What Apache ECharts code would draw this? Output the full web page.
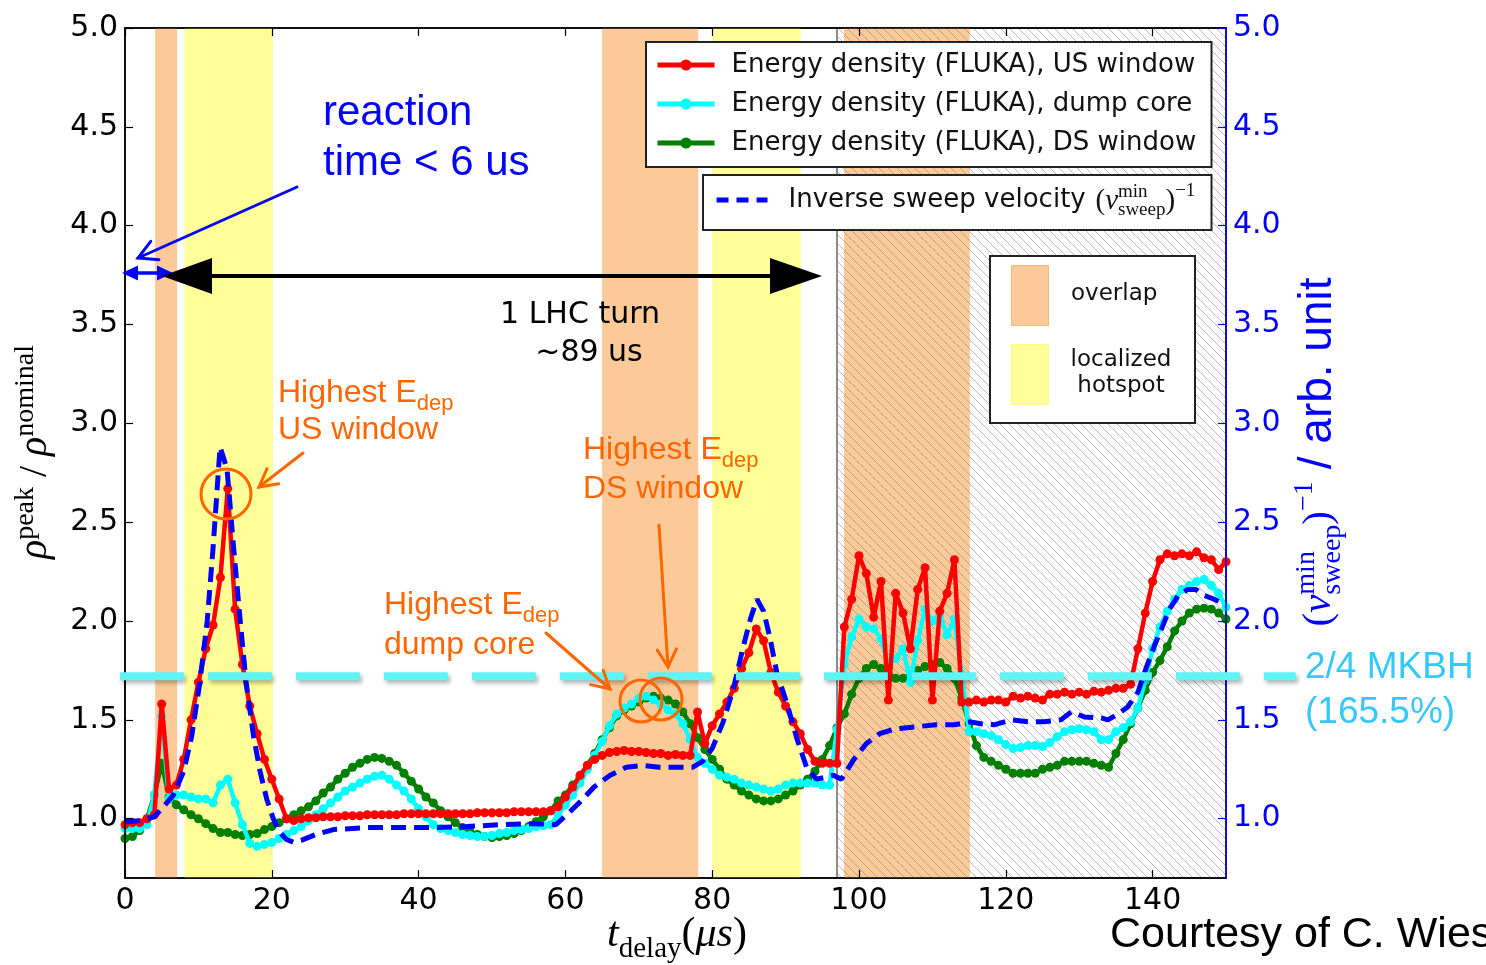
<!DOCTYPE html>
<html>
<head>
<meta charset="utf-8">
<script src="https://cdn.jsdelivr.net/npm/echarts@6/dist/echarts.min.js"></script>
<style>
  html, body { margin: 0; padding: 0; background: #fff; }
  #chart { width: 1486px; height: 965px; }
</style>
</head>
<body>
<div id="chart"></div>
<script>
// ---- data (t_delay in µs, one FLUKA sample per µs starting at 0) ----
const T_STEP = 1;

const usWindow = [
  0.97, 0.98, 0.98, 1.00, 1.02, 1.58, 1.15, 1.17, 1.30, 1.50,
  1.69, 1.86, 1.98, 2.22, 2.67, 2.06, 1.78, 1.57, 1.43, 1.30,
  1.20, 1.10, 1.00, 0.99, 1.00, 1.005, 1.005, 1.01, 1.01, 1.01,
  1.015, 1.015, 1.015, 1.02, 1.02, 1.02, 1.02, 1.02, 1.025, 1.025,
  1.025, 1.025, 1.025, 1.025, 1.025, 1.025, 1.025, 1.025, 1.03, 1.03,
  1.03, 1.03, 1.03, 1.035, 1.035, 1.035, 1.035, 1.035, 1.04, 1.06,
  1.11, 1.16, 1.22, 1.27, 1.30, 1.32, 1.335, 1.34, 1.345, 1.34,
  1.34, 1.335, 1.33, 1.33, 1.32, 1.325, 1.32, 1.32, 1.54, 1.38,
  1.47, 1.53, 1.59, 1.66, 1.76, 1.84, 1.96, 1.90, 1.74, 1.64,
  1.57, 1.49, 1.43, 1.35, 1.29, 1.28, 1.28, 1.28, 1.97, 2.11,
  2.33, 2.24, 2.02, 2.20, 1.60, 2.14, 2.04, 1.86, 2.16, 2.27,
  1.60, 2.05, 2.14, 2.31, 1.59, 1.59, 1.60, 1.59, 1.60, 1.60,
  1.59, 1.62, 1.61, 1.62, 1.61, 1.60, 1.63, 1.63, 1.64, 1.63,
  1.64, 1.63, 1.645, 1.64, 1.65, 1.66, 1.66, 1.68, 1.86, 2.04,
  2.20, 2.31, 2.34, 2.33, 2.34, 2.33, 2.35, 2.32, 2.31, 2.26,
  2.30
];

const dumpCore = [
  0.95, 0.95, 0.95, 0.97, 1.12, 1.52, 1.10, 1.12, 1.12, 1.11,
  1.10, 1.10, 1.08, 1.17, 1.20, 1.08, 0.97, 0.875, 0.86, 0.87,
  0.88, 0.90, 0.92, 0.94, 0.96, 0.99, 1.02, 1.05, 1.08, 1.11,
  1.14, 1.16, 1.18, 1.20, 1.215, 1.22, 1.20, 1.17, 1.14, 1.10,
  1.05, 1.01, 0.97, 0.95, 0.94, 0.93, 0.92, 0.915, 0.91, 0.91,
  0.915, 0.925, 0.93, 0.94, 0.945, 0.95, 0.96, 0.965, 0.97, 1.02,
  1.07, 1.12, 1.18, 1.25, 1.32, 1.39, 1.47, 1.53, 1.56, 1.58,
  1.61, 1.62, 1.60, 1.58, 1.55, 1.53, 1.48, 1.40, 1.31, 1.28,
  1.25, 1.22, 1.21, 1.20, 1.18, 1.17, 1.16, 1.15, 1.14, 1.15,
  1.17, 1.18, 1.18, 1.18, 1.18, 1.17, 1.17, 1.45, 1.78, 1.92,
  2.01, 1.97, 1.96, 1.91, 1.78, 1.81, 1.86, 1.69, 1.90, 2.06,
  2.00, 2.03, 1.93, 2.01, 1.73, 1.44, 1.44, 1.43, 1.42, 1.40,
  1.375, 1.355, 1.36, 1.37, 1.37, 1.365, 1.385, 1.415, 1.44, 1.45,
  1.455, 1.45, 1.44, 1.40, 1.40, 1.44, 1.46, 1.49, 1.56, 1.70,
  1.86, 1.97, 2.05, 2.11, 2.16, 2.18, 2.20, 2.21, 2.18, 2.14,
  2.07
];

const dsWindow = [
  0.90, 0.91, 0.94, 1.00, 1.12, 1.28, 1.11, 1.07, 1.045, 1.02,
  1.00, 0.975, 0.95, 0.93, 0.93, 0.92, 0.915, 0.92, 0.925, 0.945,
  0.96, 0.98, 1.00, 1.02, 1.04, 1.06, 1.09, 1.13, 1.16, 1.20,
  1.23, 1.26, 1.28, 1.30, 1.31, 1.305, 1.29, 1.27, 1.23, 1.19,
  1.15, 1.11, 1.08, 1.04, 1.01, 0.98, 0.955, 0.935, 0.92, 0.91,
  0.905, 0.91, 0.915, 0.925, 0.94, 0.96, 0.985, 1.01, 1.04, 1.09,
  1.12, 1.17, 1.21, 1.27, 1.33, 1.40, 1.46, 1.52, 1.55, 1.57,
  1.59, 1.61, 1.62, 1.61, 1.60, 1.58, 1.54, 1.48, 1.41, 1.35,
  1.30, 1.25, 1.20, 1.17, 1.14, 1.12, 1.10, 1.09, 1.09, 1.10,
  1.12, 1.14, 1.17, 1.20, 1.24, 1.30, 1.37, 1.46, 1.53, 1.63,
  1.71, 1.76, 1.78, 1.76, 1.73, 1.71, 1.71, 1.73, 1.75, 1.77,
  1.78, 1.79, 1.76, 1.71, 1.61, 1.48, 1.37, 1.31, 1.29, 1.27,
  1.25, 1.23, 1.23, 1.23, 1.23, 1.25, 1.26, 1.27, 1.29, 1.29,
  1.29, 1.29, 1.28, 1.27, 1.26, 1.33, 1.40, 1.48, 1.56, 1.65,
  1.74, 1.80, 1.87, 1.95, 2.00, 2.04, 2.06, 2.065, 2.06, 2.04,
  2.01
];

// inverse sweep velocity, [t_delay, value] (right axis, arb. unit)
const sweepInv = [
  [0, 0.985], [2, 0.99], [3, 1.00], [4, 1.01], [5, 1.05], [6.6, 1.12], [8, 1.24],
  [9.1, 1.42], [10.2, 1.69], [11.2, 2.00], [12, 2.37], [12.95, 2.88], [13.9, 2.77],
  [14.8, 2.37], [15.7, 2.00], [16.5, 1.69], [17.5, 1.42], [18.4, 1.24], [19.3, 1.10],
  [20.2, 1.00], [21.1, 0.93], [22, 0.895], [23, 0.88], [24, 0.89], [26, 0.92],
  [28.4, 0.945], [33, 0.955], [37.5, 0.955], [42, 0.955], [46.6, 0.96], [51, 0.97],
  [55.6, 0.975], [58.7, 0.97], [60.2, 1.02], [62, 1.085], [63.9, 1.16], [66.1, 1.22],
  [68.3, 1.26], [70.5, 1.27], [72.8, 1.26], [75, 1.26], [77.3, 1.26], [78.7, 1.29],
  [80, 1.355], [81.5, 1.49], [82.9, 1.66], [84.1, 1.85], [85.2, 2.01], [86.1, 2.11],
  [87, 2.05], [87.9, 1.91], [88.8, 1.74], [90.2, 1.58], [91.5, 1.41], [92.9, 1.255],
  [94.2, 1.20], [95.5, 1.21], [96.5, 1.22], [97.6, 1.20], [99.3, 1.30], [101, 1.38],
  [102.8, 1.43], [105, 1.455], [107.7, 1.465], [110.5, 1.475], [113, 1.475],
  [115.2, 1.49], [116.6, 1.48], [118.4, 1.475], [120.7, 1.50], [123, 1.49],
  [125.2, 1.49], [127.5, 1.50], [128.9, 1.54], [130.7, 1.515], [133, 1.51],
  [133.9, 1.50], [135.3, 1.53], [136.6, 1.565], [138, 1.64], [139.1, 1.76],
  [140.3, 1.88], [141.2, 1.96], [142.3, 2.06], [143.5, 2.13], [144.8, 2.16],
  [145.9, 2.16], [147, 2.13], [148.4, 2.11], [149.5, 2.09], [150, 2.08]
];

// shaded time windows [from, to] in µs
const overlapBands = [[4.1, 7.1], [65.0, 78.1], [97.95, 115.1]];
const hotspotBands = [[8.1, 20.15], [80.0, 92.05]];
const hatchBand = [97, 150];
const turnMark = 97;

// 2/4 MKBH level and the extent of its dashed line (µs)
const mkbhLevel = 1.72;
const mkbhSpan = [-0.7, 159.5];

const xTicks = [0, 20, 40, 60, 80, 100, 120, 140];
const yTicks = [1.0, 1.5, 2.0, 2.5, 3.0, 3.5, 4.0, 4.5, 5.0];

const NAME_US = 'Energy density (FLUKA), US window';
const NAME_CORE = 'Energy density (FLUKA), dump core';
const NAME_DS = 'Energy density (FLUKA), DS window';
const NAME_SWEEP = 'Inverse sweep velocity';

// ---- styling ----
const ORANGE_BAND = '#fcca98';
const YELLOW_BAND = '#ffff99';
const ANNO_ORANGE = '#ff6600';
const ANNO_BLUE = '#0505f5';
const SERIF = '"Liberation Serif"';
const SANS = '"Liberation Sans"';
const DJV = '"DejaVu Sans"';

const pairs = arr => arr.map((v, i) => [i * T_STEP, v]);

// diagonal hatch tile
const hatch = document.createElement('canvas');
hatch.width = hatch.height = 9;
(function () {
  const g = hatch.getContext('2d');
  g.strokeStyle = 'rgba(120,120,120,0.5)';
  g.lineWidth = 1;
  g.beginPath();
  g.moveTo(0, 0); g.lineTo(9, 9);
  g.moveTo(-2, 7); g.lineTo(2, 11);
  g.moveTo(7, -2); g.lineTo(11, 2);
  g.stroke();
})();

// text measuring for the hand-set math labels
const meas = document.createElement('canvas').getContext('2d');
function textWidth(s, font) { meas.font = font; return meas.measureText(s).width; }
function fontSize(font) { return parseFloat(font.match(/([\d.]+)px/)[1]); }

// lays out pieces of a formula on one baseline (local y = 0)
function mathRun(parts, opt) {
  let x = 0;
  const kids = [];
  parts.forEach(p => {
    if (p.gap) { x += p.gap; return; }
    const rows = p.stack || [p];
    let w = 0;
    rows.forEach(r => {
      const s = fontSize(r.f);
      kids.push({
        type: 'text', x: x, y: (r.dy || 0) - 0.3 * s, z: 30, silent: true,
        style: { text: r.t, font: r.f, fill: opt.color, align: 'left', verticalAlign: 'middle' }
      });
      w = Math.max(w, textWidth(r.t, r.f));
    });
    x += w;
  });
  const shift = opt.anchor === 'center' ? -x / 2 : 0;
  kids.forEach(k => { k.x += shift; });
  return { type: 'group', x: opt.x, y: opt.y, rotation: opt.rotation || 0, z: 30, children: kids };
}

function label(text, x, y, font, color, align) {
  return {
    type: 'text', x: x, y: y, z: 30, silent: true,
    style: { text: text, font: font, fill: color, align: align || 'left', verticalAlign: 'middle' }
  };
}

// text with a lowered subscript ("E" + "dep")
function subLabel(main, sub, x, y, font, subFont, color) {
  const w = textWidth(main, font);
  return [label(main, x, y, font, color), label(sub, x + w, y + 11, subFont, color)];
}

function line(x1, y1, x2, y2, color, width) {
  return { type: 'line', z: 30, silent: true, shape: { x1, y1, x2, y2 }, style: { stroke: color, lineWidth: width, lineCap: 'round' } };
}

// open "V" arrow head at (tx, ty) coming from (fx, fy)
function vHead(fx, fy, tx, ty, len, ang, color, width) {
  const a = Math.atan2(fy - ty, fx - tx);
  const p1 = [tx + len * Math.cos(a + ang), ty + len * Math.sin(a + ang)];
  const p2 = [tx + len * Math.cos(a - ang), ty + len * Math.sin(a - ang)];
  return {
    type: 'polyline', z: 30, silent: true,
    shape: { points: [p1, [tx, ty], p2] },
    style: { stroke: color, lineWidth: width, fill: null, lineJoin: 'miter', lineCap: 'round' }
  };
}

function vArrow(fx, fy, tx, ty, color, width, len) {
  return [line(fx, fy, tx, ty, color, width), vHead(fx, fy, tx, ty, len || 20, 0.5, color, width)];
}

function tri(points, color) {
  return { type: 'polygon', z: 30, silent: true, shape: { points }, style: { fill: color } };
}

function ring(cx, cy, r, color) {
  return { type: 'circle', z: 30, silent: true, shape: { cx, cy, r }, style: { fill: null, stroke: color, lineWidth: 3 } };
}

const chart = echarts.init(document.getElementById('chart'), null, { renderer: 'canvas' });

const axisFont = { fontFamily: DJV, fontSize: 30 };

const option = {
  animation: false,
  backgroundColor: '#fff',
  grid: { left: 125, right: 260, top: 28, bottom: 87, show: true, borderColor: '#000', borderWidth: 1.5, backgroundColor: '#fff' },
  xAxis: [
    {
      type: 'value', min: 0, max: 150, position: 'bottom', z: 10,
      axisLine: { show: true, onZero: false, lineStyle: { color: '#000', width: 1.5 } },
      axisTick: { show: true, inside: true, length: 8, customValues: xTicks, lineStyle: { color: '#000', width: 1.2 } },
      axisLabel: { customValues: xTicks, margin: 8, color: '#000', ...axisFont, formatter: v => String(v) },
      splitLine: { show: false }
    },
    {
      type: 'value', min: 0, max: 150, position: 'top', z: 10,
      axisLine: { show: true, onZero: false, lineStyle: { color: '#000', width: 1.5 } },
      axisTick: { show: true, inside: true, length: 8, customValues: xTicks, lineStyle: { color: '#000', width: 1.2 } },
      axisLabel: { show: false },
      splitLine: { show: false }
    }
  ],
  yAxis: [
    {
      type: 'value', min: 0.7, max: 5.0, position: 'left', z: 10,
      axisLine: { show: true, onZero: false, lineStyle: { color: '#000', width: 1.5 } },
      axisTick: { show: true, inside: true, length: 8, customValues: yTicks, lineStyle: { color: '#000', width: 1.2 } },
      axisLabel: { customValues: yTicks, margin: 7, color: '#000', ...axisFont, formatter: v => v.toFixed(1) },
      splitLine: { show: false }
    },
    {
      type: 'value', min: 0.7, max: 5.0, position: 'right', z: 10,
      axisLine: { show: true, onZero: false, lineStyle: { color: '#0000ff', width: 1.5 } },
      axisTick: { show: true, inside: true, length: 8, customValues: yTicks, lineStyle: { color: '#0000ff', width: 1.2 } },
      axisLabel: { customValues: yTicks, margin: 7, color: '#0000ff', ...axisFont, formatter: v => v.toFixed(1) },
      splitLine: { show: false }
    }
  ],
  legend: [
    {
      data: [NAME_US, NAME_CORE, NAME_DS], orient: 'vertical', left: 646, top: 42,
      itemWidth: 57, itemHeight: 14, itemGap: 13, padding: [10, 13, 11, 9],
      backgroundColor: '#fff', borderColor: '#222', borderWidth: 2, borderRadius: 0,
      selectedMode: false, z: 20,
      lineStyle: { width: 5 },
      textStyle: { fontFamily: DJV, fontSize: 26, color: '#111', lineHeight: 26, width: 467, padding: [0, 0, 0, 12] }
    },
    {
      data: [NAME_SWEEP], orient: 'vertical', left: 703, top: 175,
      itemWidth: 51, itemHeight: 14, padding: [12, 11, 17, 11],
      backgroundColor: '#fff', borderColor: '#222', borderWidth: 2, borderRadius: 0,
      selectedMode: false, z: 20,
      lineStyle: { width: 5, type: [12, 8] },
      itemStyle: { opacity: 0 },
      textStyle: { fontFamily: DJV, fontSize: 26, color: '#111', lineHeight: 26, width: 412, padding: [0, 0, 0, 16] }
    }
  ],
  series: [
    {
      name: 'overlap', type: 'line', data: [], z: 1, silent: true,
      markArea: {
        silent: true, itemStyle: { color: ORANGE_BAND },
        data: overlapBands.map(b => [{ xAxis: b[0] }, { xAxis: b[1] }])
      }
    },
    {
      name: 'localized hotspot', type: 'line', data: [], z: 1, silent: true,
      markArea: {
        silent: true, itemStyle: { color: YELLOW_BAND },
        data: hotspotBands.map(b => [{ xAxis: b[0] }, { xAxis: b[1] }])
      }
    },
    {
      name: 'next turn', type: 'line', data: [], z: 1, silent: true,
      markArea: {
        silent: true, itemStyle: { color: { image: hatch, repeat: 'repeat' } },
        data: [[{ xAxis: hatchBand[0] }, { xAxis: hatchBand[1] }]]
      },
      markLine: {
        silent: true, symbol: 'none', label: { show: false },
        lineStyle: { color: '#666', width: 1.5, type: 'solid' },
        data: [{ xAxis: turnMark }]
      }
    },
    {
      name: NAME_DS, type: 'line', data: pairs(dsWindow), z: 3,
      color: '#007f00', symbol: 'circle', symbolSize: 9, showAllSymbol: true,
      lineStyle: { width: 4.5, color: '#007f00' }, itemStyle: { color: '#007f00' }
    },
    {
      name: NAME_CORE, type: 'line', data: pairs(dumpCore), z: 4,
      color: '#00ffff', symbol: 'circle', symbolSize: 9, showAllSymbol: true,
      lineStyle: { width: 4.5, color: '#00ffff' }, itemStyle: { color: '#00ffff' }
    },
    {
      name: NAME_US, type: 'line', data: pairs(usWindow), z: 5,
      color: '#ff0000', symbol: 'circle', symbolSize: 9, showAllSymbol: true,
      lineStyle: { width: 4.5, color: '#ff0000' }, itemStyle: { color: '#ff0000' }
    },
    {
      name: NAME_SWEEP, type: 'line', data: sweepInv, yAxisIndex: 1, z: 6,
      color: '#0000ff', symbol: 'none',
      lineStyle: { width: 5, color: '#0000ff', type: [15, 8] }, itemStyle: { color: '#0000ff' }
    }
  ]
};

chart.setOption(option);

// ---- annotations ----
const f32 = '32px ' + SANS, f22 = '22px ' + SANS;
const graphics = [];

// 2/4 MKBH level: dashed line placed through the axis scales, running past the plot
const mkA = chart.convertToPixel({ xAxisIndex: 0, yAxisIndex: 0 }, [mkbhSpan[0], mkbhLevel]);
const mkB = chart.convertToPixel({ xAxisIndex: 0, yAxisIndex: 0 }, [mkbhSpan[1], mkbhLevel]);
graphics.push({
  type: 'line', z: 25, silent: true,
  shape: { x1: mkA[0], y1: mkA[1], x2: mkB[0], y2: mkB[1] },
  style: {
    stroke: '#5ff3f3', lineWidth: 8, lineDash: [64, 24],
    shadowColor: 'rgba(0,0,0,0.3)', shadowBlur: 4, shadowOffsetX: 2, shadowOffsetY: 3
  }
});

// reaction-time note and its arrows
graphics.push(label('reaction', 323, 113, '42px ' + SANS, ANNO_BLUE));
graphics.push(label('time < 6 us', 323, 163, '42px ' + SANS, ANNO_BLUE));
graphics.push(...vArrow(297, 187, 138, 258, ANNO_BLUE, 3, 21));
graphics.push(line(134, 273, 160, 273, ANNO_BLUE, 3.5));
graphics.push(tri([[122, 273], [138, 265.5], [138, 280.5]], ANNO_BLUE));
graphics.push(tri([[173, 273], [157, 265.5], [157, 280.5]], ANNO_BLUE));

// one LHC turn
graphics.push(line(205, 276, 775, 276, '#000', 4));
graphics.push(tri([[162, 276], [212, 258], [212, 294]], '#000'));
graphics.push(tri([[822, 276], [770, 258], [770, 294]], '#000'));
graphics.push(label('1 LHC turn', 580, 315, '30px ' + DJV, '#000', 'center'));
graphics.push(label('~89 us', 589, 353, '30px ' + DJV, '#000', 'center'));

// highest energy deposition notes
graphics.push(...subLabel('Highest E', 'dep', 278, 393, f32, f22, ANNO_ORANGE));
graphics.push(label('US window', 278, 430, f32, ANNO_ORANGE));
graphics.push(...vArrow(303, 453, 259, 487, ANNO_ORANGE, 3, 20));
graphics.push(ring(226, 494, 25, ANNO_ORANGE));

graphics.push(...subLabel('Highest E', 'dep', 583, 450, f32, f22, ANNO_ORANGE));
graphics.push(label('DS window', 583, 489, f32, ANNO_ORANGE));
graphics.push(...vArrow(659, 525, 668, 667, ANNO_ORANGE, 3, 20));

graphics.push(...subLabel('Highest E', 'dep', 384, 605, f32, f22, ANNO_ORANGE));
graphics.push(label('dump core', 384, 645, f32, ANNO_ORANGE));
graphics.push(...vArrow(546, 633, 610, 689, ANNO_ORANGE, 3, 20));
graphics.push(ring(641, 701, 21, ANNO_ORANGE));
graphics.push(ring(661, 699, 21, ANNO_ORANGE));

// MKBH level label
graphics.push(label('2/4 MKBH', 1305, 668, '37px ' + SANS, '#35c8fa'));
graphics.push(label('(165.5%)', 1305, 713, '37px ' + SANS, '#35c8fa'));

// credit
graphics.push(label('Courtesy of C. Wies', 1110, 935, '43px ' + SANS, '#000'));

// band key
graphics.push({ type: 'rect', z: 20, silent: true, shape: { x: 990, y: 256, width: 205, height: 167 }, style: { fill: '#fff', stroke: '#222', lineWidth: 2 } });
graphics.push({ type: 'rect', z: 21, silent: true, shape: { x: 1011.5, y: 265.5, width: 37, height: 60 }, style: { fill: ORANGE_BAND, stroke: '#f8b67e', lineWidth: 1 } });
graphics.push({ type: 'rect', z: 21, silent: true, shape: { x: 1011.5, y: 344.5, width: 37, height: 60 }, style: { fill: YELLOW_BAND, stroke: '#fdfd80', lineWidth: 1 } });
graphics.push(label('overlap', 1071, 294, '23px ' + DJV, '#111'));
graphics.push(label('localized', 1121, 360, '23px ' + DJV, '#111', 'center'));
graphics.push(label('hotspot', 1121, 386, '23px ' + DJV, '#111', 'center'));

// axis titles
graphics.push(mathRun([
  { t: 'ρ', f: 'italic 40px ' + SERIF },
  { t: 'peak', f: '28px ' + SERIF, dy: -13 },
  { gap: 10 }, { t: '/', f: '40px ' + SERIF }, { gap: 10 },
  { t: 'ρ', f: 'italic 40px ' + SERIF },
  { t: 'nominal', f: '28px ' + SERIF, dy: -13 }
], { x: 47, y: 452, rotation: Math.PI / 2, anchor: 'center', color: '#000' }));

graphics.push(mathRun([
  { t: 't', f: 'italic 42px ' + SERIF },
  { t: 'delay', f: '29px ' + SERIF, dy: 10 },
  { t: '(', f: '42px ' + SERIF },
  { t: 'μs', f: 'italic 42px ' + SERIF },
  { t: ')', f: '42px ' + SERIF }
], { x: 677, y: 948, anchor: 'center', color: '#000' }));

graphics.push(mathRun([
  { t: '(', f: '41px ' + SERIF },
  { t: 'v', f: 'italic 41px ' + SERIF },
  { stack: [{ t: 'min', f: '28px ' + SERIF, dy: -17 }, { t: 'sweep', f: '28px ' + SERIF, dy: 9 }] },
  { t: ')', f: '41px ' + SERIF },
  { t: '−1', f: '28px ' + SERIF, dy: -19 },
  { gap: 12 },
  { t: '/ arb. unit', f: '46px ' + SANS }
], { x: 1332, y: 452, rotation: Math.PI / 2, anchor: 'center', color: '#0000ff' }));

// formula after the sweep-velocity legend entry
const sweepTextEnd = 788 + textWidth(NAME_SWEEP + ' ', '26px ' + DJV);
graphics.push(mathRun([
  { t: '(', f: '29px ' + SERIF },
  { t: 'v', f: 'italic 29px ' + SERIF },
  { stack: [{ t: 'min', f: '19px ' + SERIF, dy: -12 }, { t: 'sweep', f: '19px ' + SERIF, dy: 6 }] },
  { t: ')', f: '29px ' + SERIF },
  { t: '−1', f: '19px ' + SERIF, dy: -13 }
], { x: sweepTextEnd + 2, y: 210, anchor: 'left', color: '#111' }));

chart.setOption({ graphic: { elements: graphics } });
</script>
</body>
</html>
